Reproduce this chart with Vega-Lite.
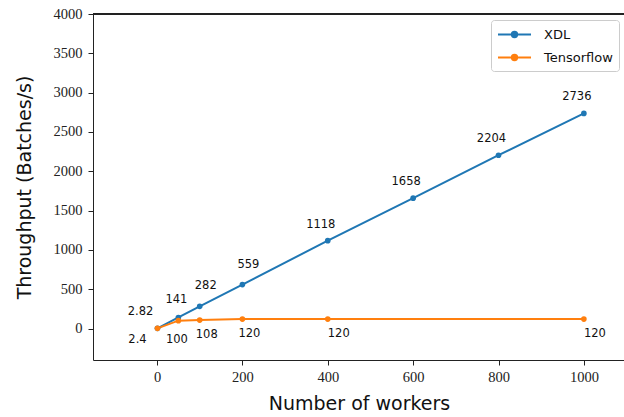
{
  "$schema": "https://vega.github.io/schema/vega-lite/v6.json",
  "width": 531,
  "height": 346,
  "autosize": {"type": "none"},
  "padding": {"left": 93, "top": 14, "right": 0, "bottom": 57},
  "background": "white",
  "config": {
    "view": {"stroke": null},
    "axis": {
      "grid": false,
      "domainColor": "#222222",
      "tickColor": "#222222",
      "tickSize": 5,
      "labelColor": "#222222",
      "labelFont": "'Liberation Serif', 'DejaVu Serif', serif",
      "labelFontSize": 14.5,
      "titleFont": "DejaVu Sans",
      "titleFontSize": 19,
      "titleFontWeight": "normal",
      "titleColor": "#111111",
      "labelFlush": false,
      "labelOverlap": false
    },
    "text": {"font": "DejaVu Sans", "fontSize": 11.5, "color": "#111111", "baseline": "middle", "align": "center"}
  },
  "data": {
    "values": [
      {"system": "XDL", "workers": 1, "throughput": 2.82},
      {"system": "XDL", "workers": 50, "throughput": 141},
      {"system": "XDL", "workers": 100, "throughput": 282},
      {"system": "XDL", "workers": 200, "throughput": 559},
      {"system": "XDL", "workers": 400, "throughput": 1118},
      {"system": "XDL", "workers": 600, "throughput": 1658},
      {"system": "XDL", "workers": 800, "throughput": 2204},
      {"system": "XDL", "workers": 1000, "throughput": 2736},
      {"system": "Tensorflow", "workers": 1, "throughput": 2.4},
      {"system": "Tensorflow", "workers": 50, "throughput": 100},
      {"system": "Tensorflow", "workers": 100, "throughput": 108},
      {"system": "Tensorflow", "workers": 200, "throughput": 120},
      {"system": "Tensorflow", "workers": 400, "throughput": 120},
      {"system": "Tensorflow", "workers": 1000, "throughput": 120}
    ]
  },
  "encoding": {
    "x": {
      "field": "workers",
      "type": "quantitative",
      "scale": {"domain": [-150, 1094], "nice": false, "zero": false},
      "axis": {
        "values": [0, 200, 400, 600, 800, 1000],
        "format": "d",
        "title": "Number of workers",
        "labelPadding": 5,
        "titleX": 266,
        "titleY": 49,
        "titleAlign": "center",
        "titleBaseline": "alphabetic"
      }
    },
    "y": {
      "field": "throughput",
      "type": "quantitative",
      "scale": {"domain": [-400, 4000], "nice": false, "zero": false},
      "axis": {
        "values": [0, 500, 1000, 1500, 2000, 2500, 3000, 3500, 4000],
        "format": "d",
        "title": "Throughput (Batches/s)",
        "labelPadding": 6,
        "titleX": -69,
        "titleY": 173,
        "titleAngle": -90,
        "titleAlign": "center",
        "titleBaseline": "middle"
      }
    }
  },
  "layer": [
    {
      "mark": {"type": "rule", "color": "#222222", "strokeWidth": 1},
      "encoding": {"x": {"datum": -150}, "x2": {"datum": 1094}, "y": {"datum": 4000}}
    },
    {
      "mark": {"type": "line", "strokeWidth": 2, "point": {"filled": true, "size": 32}},
      "encoding": {
        "color": {
          "field": "system",
          "type": "nominal",
          "scale": {"domain": ["XDL", "Tensorflow"], "range": ["#1f77b4", "#ff7f0e"]},
          "legend": {
            "orient": "none",
            "legendX": 398,
            "legendY": 6,
            "title": null,
            "symbolType": "M-2.2,0H2.2M-0.36,0A0.36,0.36 0 1,1 0.36,0A0.36,0.36 0 1,1 -0.36,0Z",
            "symbolSize": 225,
            "symbolStrokeWidth": 2,
            "symbolOffset": 9,
            "labelFont": "DejaVu Sans",
            "labelFontSize": 13,
            "labelColor": "#111111",
            "labelOffset": 21,
            "rowPadding": 7,
            "padding": 6,
            "strokeColor": "#cccccc",
            "fillColor": "white",
            "cornerRadius": 3,
            "encode": {
              "symbols": {
                "update": {
                  "fill": {"scale": "color", "field": "value"},
                  "stroke": {"scale": "color", "field": "value"},
                  "opacity": {"value": 1}
                }
              }
            }
          }
        }
      }
    },
    {
      "transform": [{"filter": {"and": [{"field": "system", "equal": "XDL"}, {"field": "workers", "oneOf": [400, 600, 800, 1000]}]}}],
      "mark": {"type": "text", "dx": -7, "dy": -16},
      "encoding": {"text": {"field": "throughput", "type": "nominal"}}
    },
    {
      "transform": [{"filter": {"and": [{"field": "system", "equal": "XDL"}, {"field": "workers", "oneOf": [100, 200]}]}}],
      "mark": {"type": "text", "dx": 6, "dy": -20},
      "encoding": {"text": {"field": "throughput", "type": "nominal"}}
    },
    {
      "transform": [{"filter": {"and": [{"field": "system", "equal": "XDL"}, {"field": "workers", "equal": 50}]}}],
      "mark": {"type": "text", "dx": -2, "dy": -17},
      "encoding": {"text": {"field": "throughput", "type": "nominal"}}
    },
    {
      "transform": [{"filter": {"and": [{"field": "system", "equal": "XDL"}, {"field": "workers", "equal": 1}]}}],
      "mark": {"type": "text", "dx": -17, "dy": -16},
      "encoding": {"text": {"field": "throughput", "type": "nominal"}}
    },
    {
      "transform": [{"filter": {"and": [{"field": "system", "equal": "Tensorflow"}, {"field": "workers", "equal": 1}]}}],
      "mark": {"type": "text", "dx": -20, "dy": 12},
      "encoding": {"text": {"field": "throughput", "type": "nominal"}}
    },
    {
      "transform": [{"filter": {"and": [{"field": "system", "equal": "Tensorflow"}, {"field": "workers", "equal": 50}]}}],
      "mark": {"type": "text", "dx": -1.5, "dy": 19},
      "encoding": {"text": {"field": "throughput", "type": "nominal"}}
    },
    {
      "transform": [{"filter": {"and": [{"field": "system", "equal": "Tensorflow"}, {"field": "workers", "oneOf": [100, 200]}]}}],
      "mark": {"type": "text", "dx": 7, "dy": 15},
      "encoding": {"text": {"field": "throughput", "type": "nominal"}}
    },
    {
      "transform": [{"filter": {"and": [{"field": "system", "equal": "Tensorflow"}, {"field": "workers", "oneOf": [400, 1000]}]}}],
      "mark": {"type": "text", "dx": 11, "dy": 15},
      "encoding": {"text": {"field": "throughput", "type": "nominal"}}
    }
  ]
}
